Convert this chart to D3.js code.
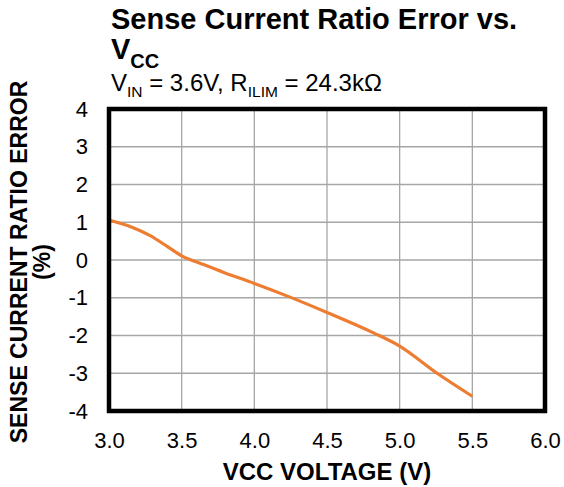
<!DOCTYPE html>
<html>
<head>
<meta charset="utf-8">
<script src="https://cdn.jsdelivr.net/npm/d3@7"></script>
<style>
  body { margin: 0; background: #fff; }
  text { font-family: "Liberation Sans", Arial, sans-serif; fill: #000; }
</style>
</head>
<body>
<div id="chart"></div>
<script>
// data
var vcc = [3.0, 3.15, 3.28, 3.4, 3.5, 3.63, 3.79, 4.0, 4.25, 4.5, 4.82, 5.0, 5.25, 5.5];
var error = [1.06, 0.88, 0.65, 0.36, 0.11, -0.09, -0.33, -0.62, -0.99, -1.39, -1.93, -2.28, -2.98, -3.61];

var xTicks = [3.0, 3.5, 4.0, 4.5, 5.0, 5.5, 6.0];
var yTicks = [-4, -3, -2, -1, 0, 1, 2, 3, 4];

var svgWidth = 564;
var svgHeight = 487;

var margin = { top: 109, right: 19, bottom: 76, left: 109 };
var width = svgWidth - margin.left - margin.right;
var height = svgHeight - margin.top - margin.bottom;

var svg = d3.select("#chart")
  .append("svg")
  .attr("width", svgWidth)
  .attr("height", svgHeight);

var chartGroup = svg.append("g")
  .attr("transform", `translate(${margin.left}, ${margin.top})`);

var xScale = d3.scaleLinear().domain([3, 6]).range([0, width]);
var yScale = d3.scaleLinear().domain([-4, 4]).range([height, 0]);

// grid
chartGroup.append("g")
  .selectAll("line")
  .data(xTicks.slice(1, -1))
  .enter()
  .append("line")
  .attr("x1", d => xScale(d)).attr("x2", d => xScale(d))
  .attr("y1", 0).attr("y2", height)
  .attr("stroke", "#a6a6a6").attr("stroke-width", 1.3);

chartGroup.append("g")
  .selectAll("line")
  .data(yTicks.slice(1, -1))
  .enter()
  .append("line")
  .attr("x1", 0).attr("x2", width)
  .attr("y1", d => yScale(d)).attr("y2", d => yScale(d))
  .attr("stroke", "#a6a6a6").attr("stroke-width", 1.3);

// axes (labels only)
var bottomAxis = d3.axisBottom(xScale).tickValues(xTicks).tickFormat(d => d.toFixed(1)).tickSize(0).tickPadding(21);
var leftAxis = d3.axisLeft(yScale).tickValues(yTicks).tickFormat(d => String(d)).tickSize(0).tickPadding(21);

var gx = chartGroup.append("g")
  .attr("transform", `translate(0, ${height})`)
  .call(bottomAxis);
var gy = chartGroup.append("g").call(leftAxis);

[gx, gy].forEach(function(g) {
  g.select(".domain").remove();
  g.selectAll("text")
    .attr("font-family", "Liberation Sans, Arial, sans-serif")
    .attr("font-size", "22px")
    .attr("fill", "#000");
});

// curve
var line = d3.line()
  .x((d, i) => xScale(vcc[i]))
  .y(d => yScale(d))
  .curve(d3.curveMonotoneX);

chartGroup.append("path")
  .datum(error)
  .attr("d", line)
  .attr("fill", "none")
  .attr("stroke", "#ed7d31")
  .attr("stroke-width", 3.2);

// frame
chartGroup.append("rect")
  .attr("x", 0).attr("y", 0)
  .attr("width", width).attr("height", height)
  .attr("fill", "none")
  .attr("stroke", "#000")
  .attr("stroke-width", 4.5);

// titles
var title = svg.append("text")
  .attr("x", 111).attr("y", 29)
  .attr("font-size", "29px").attr("font-weight", "bold")
  .text("Sense Current Ratio Error vs.");

var title2 = svg.append("text")
  .attr("x", 111).attr("y", 59)
  .attr("font-size", "29px").attr("font-weight", "bold");
title2.append("tspan").text("V");
title2.append("tspan").attr("font-size", "20px").attr("dy", 9).text("CC");

var sub = svg.append("text")
  .attr("x", 111).attr("y", 91)
  .attr("font-size", "24px");
sub.append("tspan").text("V");
sub.append("tspan").attr("font-size", "15.5px").attr("dy", 6).text("IN");
sub.append("tspan").attr("dy", -6).text(" = 3.6V, R");
sub.append("tspan").attr("font-size", "15.5px").attr("dy", 6).text("ILIM");
sub.append("tspan").attr("dy", -6).text(" = 24.3k\u03A9");

svg.append("text")
  .attr("x", margin.left + width / 2).attr("y", 480)
  .attr("text-anchor", "middle")
  .attr("font-size", "24px").attr("font-weight", "bold")
  .text("VCC VOLTAGE (V)");

var yTitle = svg.append("text")
  .attr("transform", `translate(27, 262) rotate(-90)`)
  .attr("text-anchor", "middle")
  .attr("font-size", "23px").attr("font-weight", "bold");
yTitle.append("tspan").attr("x", 0).attr("y", 0).text("SENSE CURRENT RATIO ERROR");
yTitle.append("tspan").attr("x", 0).attr("y", 23).text("(%)");
</script>
</body>
</html>
